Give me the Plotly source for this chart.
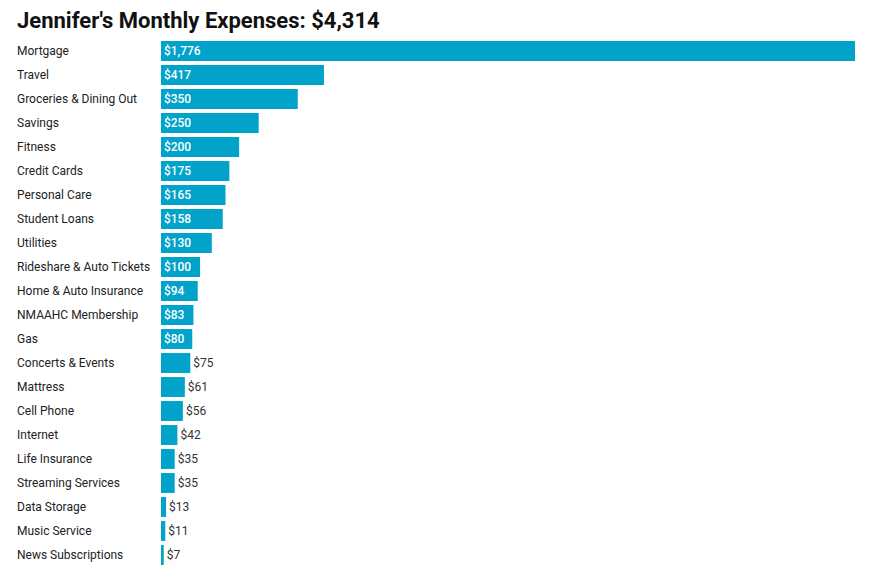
import plotly.graph_objects as go

# 지출 항목과 금액
categories = ["Mortgage", "Travel", "Groceries & Dining Out", "Savings", "Fitness",
              "Credit Cards", "Personal Care", "Student Loans", "Utilities",
              "Rideshare & Auto Tickets", "Home & Auto Insurance", "NMAAHC Membership",
              "Gas", "Concerts & Events", "Mattress", "Cell Phone", "Internet",
              "Life Insurance", "Streaming Services", "Data Storage", "Music Service",
              "News Subscriptions"]
amounts = [1776, 417, 350, 250, 200, 175, 165, 158, 130, 100, 94, 83, 80,
           75, 61, 56, 42, 35, 35, 13, 11, 7]
total = 4314

labels = [f"${v:,}" for v in amounts]
positions = ["inside" if v >= 80 else "outside" for v in amounts]

# 페이지 여백(8px)을 감안한 크기
W, H = 885, 580
left, right, top, bottom = 153, 38, 31, 21

fig = go.Figure(go.Bar(
    x=amounts, y=categories, orientation="h",
    marker=dict(color="#01a3cb", line=dict(width=0)),
    text=labels, textposition=positions, insidetextanchor="start",
    insidetextfont=dict(family="Roboto", size=12, color="white", weight=500),
    outsidetextfont=dict(family="Roboto", size=12, color="#333333"),
    cliponaxis=False, hoverinfo="skip",
))

# 카테고리 라벨은 왼쪽 정렬로 따로 붙입니다
for cat in categories:
    fig.add_annotation(x=(7 - left) / (W - left - right), xref="paper", y=cat, yref="y",
                       text=cat, showarrow=False, xanchor="left",
                       font=dict(family="Roboto", size=12, color="#222222"))

fig.update_layout(
    width=W, height=H,
    margin=dict(l=left, r=right, t=top, b=bottom),
    plot_bgcolor="white", paper_bgcolor="white",
    bargap=0.17,
    showlegend=False,
    title=dict(text=f"<b>Jennifer's Monthly Expenses: ${total:,}</b>",
               x=9 / W, xref="container", xanchor="left",
               y=1 - 12 / H, yref="container", yanchor="middle",
               font=dict(family="Roboto", size=22, color="#111111")),
    xaxis=dict(range=[0, 1776], visible=False),
    yaxis=dict(autorange="reversed", showticklabels=False, showgrid=False,
               zeroline=False, ticks=""),
)

fig.write_html("out.html")
